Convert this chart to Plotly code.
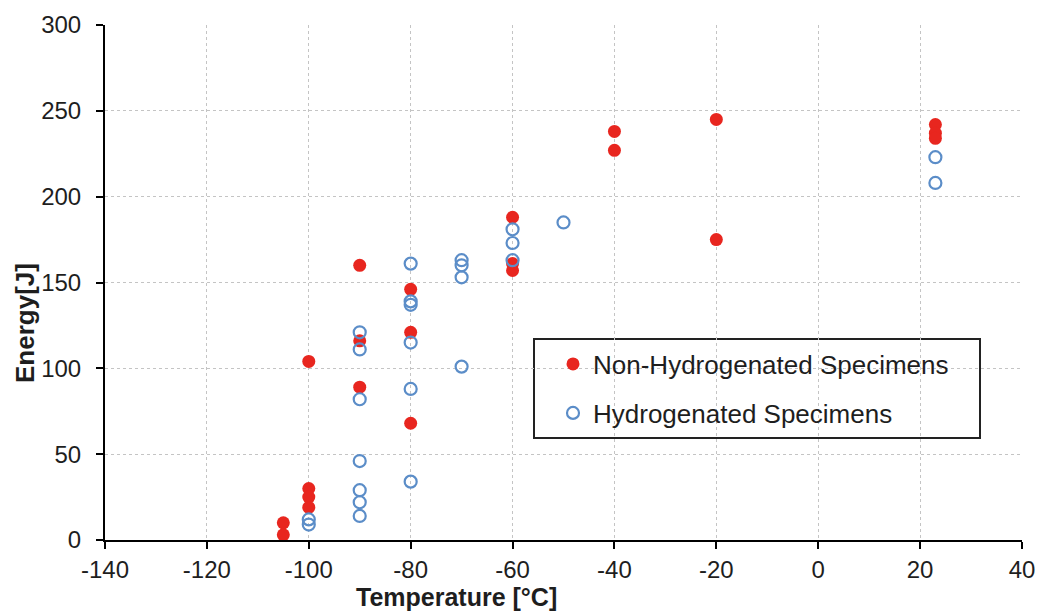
import plotly.graph_objects as go

# Non-hydrogenated specimens
non_h_temp = [-105, -105, -100, -100, -100, -100, -90, -90, -90, -80, -80, -80,
              -60, -60, -60, -40, -40, -20, -20, 23, 23, 23]
non_h_energy = [10, 3, 104, 30, 25, 19, 160, 116, 89, 146, 121, 68,
                188, 161, 157, 238, 227, 245, 175, 242, 237, 234]

# Hydrogenated specimens
h_temp = [-100, -100, -90, -90, -90, -90, -90, -90, -90,
          -80, -80, -80, -80, -80, -80,
          -70, -70, -70, -70, -60, -60, -60, -50, 23, 23]
h_energy = [12, 9, 121, 111, 82, 46, 29, 22, 14,
            161, 139, 137, 115, 88, 34,
            163, 160, 153, 101, 181, 173, 163, 185, 223, 208]

x_ticks = [-140, -120, -100, -80, -60, -40, -20, 0, 20, 40]
x_labels = ["-140", "-120", "-100", "-80", "-60", "-40", "-20", "0", "20", "40"]
y_ticks = [0, 50, 100, 150, 200, 250, 300]
y_labels = ["0", "50", "100", "150", "200", "250", "300"]

FONT = "Liberation Sans, Arial, sans-serif"
TXT = "#1e1e1e"
RED = "#e8261f"
BLUE = "#5b8dc8"

# page body has an 8px margin; reference plot area px: x 105..1022, y 25..540
OFF = 8
PL, PR, PT, PB = 105 - OFF, 1022 - OFF, 25 - OFF, 540 - OFF
W, H = 1047, 616
PW, PH = PR - PL, PB - PT


def px(xr):
    return (xr - 105) / PW


def py(yr):
    return (540 - yr) / PH


fig = go.Figure()
fig.add_trace(go.Scatter(
    x=non_h_temp, y=non_h_energy, mode="markers",
    name="Non-Hydrogenated Specimens", legend="legend",
    marker=dict(symbol="circle", size=13, color=RED, line=dict(width=0)),
))
fig.add_trace(go.Scatter(
    x=h_temp, y=h_energy, mode="markers",
    name="Hydrogenated Specimens", legend="legend2",
    marker=dict(symbol="circle-open", size=12, color=BLUE,
                line=dict(width=2.2, color=BLUE)),
))

legend_common = dict(
    xanchor="left", yanchor="middle",
    bgcolor="rgba(0,0,0,0)", borderwidth=0,
    font=dict(family=FONT, size=26, color=TXT),
    itemsizing="trace",
)

fig.update_layout(
    width=W, height=H,
    margin=dict(l=PL, r=W - PR, t=PT, b=H - PB),
    paper_bgcolor="white", plot_bgcolor="white",
    font=dict(family=FONT, size=24, color=TXT),
    showlegend=True,
    legend=dict(x=px(553), y=py(364), **legend_common),
    legend2=dict(x=px(553), y=py(413), **legend_common),
    shapes=[dict(type="rect", xref="paper", yref="paper",
                 x0=px(534), x1=px(980), y0=py(438), y1=py(339),
                 line=dict(color="#222222", width=2), fillcolor="white",
                 layer="below")],
    annotations=[
        dict(text="<b>Temperature [°C]</b>", xref="paper", yref="paper",
             x=px(456), y=py(597),
             xanchor="center", yanchor="middle", showarrow=False,
             font=dict(family=FONT, size=25, color=TXT)),
        dict(text="<b>Energy[J]</b>", xref="paper", yref="paper",
             x=px(25), y=py(323), textangle=-90,
             xanchor="center", yanchor="middle", showarrow=False,
             font=dict(family=FONT, size=26, color=TXT)),
    ],
    xaxis=dict(
        range=[-140, 40], tickvals=x_ticks, ticktext=x_labels,
        automargin=False,
        showgrid=True, gridcolor="#c4c4c4", griddash="dot", gridwidth=1,
        showline=True, linecolor="black", linewidth=2,
        ticks="outside", ticklen=7, tickcolor="black", tickwidth=1.5,
        ticklabelstandoff=0,
        zeroline=False,
    ),
    yaxis=dict(
        range=[0, 300], tickvals=y_ticks, ticktext=y_labels,
        automargin=False,
        showgrid=True, gridcolor="#c4c4c4", griddash="dot", gridwidth=1,
        showline=True, linecolor="black", linewidth=2,
        ticks="outside", ticklen=7, tickcolor="black", tickwidth=1.5,
        ticklabelstandoff=10,
        zeroline=False,
    ),
)

fig.write_html("out.html")
